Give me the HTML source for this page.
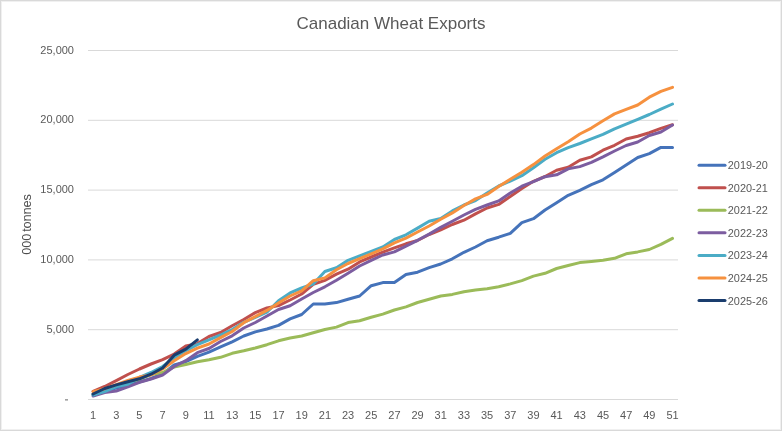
<!DOCTYPE html><html><head><meta charset="utf-8"><style>html,body{margin:0;padding:0;background:#fff;overflow:hidden;}svg{display:block;will-change:transform;}text{font-family:"Liberation Sans",sans-serif;}</style></head><body>
<svg width="782" height="431" viewBox="0 0 782 431">
<rect x="0" y="0" width="782" height="431" fill="#ffffff"/>
<rect x="0.5" y="0.5" width="781" height="430" fill="none" stroke="#d9d9d9" stroke-width="1"/>
<rect x="1.5" y="1.5" width="779" height="428" fill="none" stroke="#f0f0f0" stroke-width="1"/>
<line x1="88" y1="399.50" x2="678" y2="399.50" stroke="#d9d9d9" stroke-width="1"/>
<line x1="88" y1="329.70" x2="678" y2="329.70" stroke="#d9d9d9" stroke-width="1"/>
<line x1="88" y1="259.90" x2="678" y2="259.90" stroke="#d9d9d9" stroke-width="1"/>
<line x1="88" y1="190.10" x2="678" y2="190.10" stroke="#d9d9d9" stroke-width="1"/>
<line x1="88" y1="120.30" x2="678" y2="120.30" stroke="#d9d9d9" stroke-width="1"/>
<line x1="88" y1="50.50" x2="678" y2="50.50" stroke="#d9d9d9" stroke-width="1"/>
<rect x="65" y="399.2" width="3" height="1.3" fill="#8a8a8a"/>
<text x="74" y="332.8" font-size="11" fill="#595959" text-anchor="end">5,000</text>
<text x="74" y="263.0" font-size="11" fill="#595959" text-anchor="end">10,000</text>
<text x="74" y="193.2" font-size="11" fill="#595959" text-anchor="end">15,000</text>
<text x="74" y="123.4" font-size="11" fill="#595959" text-anchor="end">20,000</text>
<text x="74" y="53.6" font-size="11" fill="#595959" text-anchor="end">25,000</text>
<text x="93.1" y="418.5" font-size="11" fill="#595959" text-anchor="middle">1</text>
<text x="116.3" y="418.5" font-size="11" fill="#595959" text-anchor="middle">3</text>
<text x="139.4" y="418.5" font-size="11" fill="#595959" text-anchor="middle">5</text>
<text x="162.6" y="418.5" font-size="11" fill="#595959" text-anchor="middle">7</text>
<text x="185.8" y="418.5" font-size="11" fill="#595959" text-anchor="middle">9</text>
<text x="209.0" y="418.5" font-size="11" fill="#595959" text-anchor="middle">11</text>
<text x="232.2" y="418.5" font-size="11" fill="#595959" text-anchor="middle">13</text>
<text x="255.3" y="418.5" font-size="11" fill="#595959" text-anchor="middle">15</text>
<text x="278.5" y="418.5" font-size="11" fill="#595959" text-anchor="middle">17</text>
<text x="301.7" y="418.5" font-size="11" fill="#595959" text-anchor="middle">19</text>
<text x="324.9" y="418.5" font-size="11" fill="#595959" text-anchor="middle">21</text>
<text x="348.0" y="418.5" font-size="11" fill="#595959" text-anchor="middle">23</text>
<text x="371.2" y="418.5" font-size="11" fill="#595959" text-anchor="middle">25</text>
<text x="394.4" y="418.5" font-size="11" fill="#595959" text-anchor="middle">27</text>
<text x="417.6" y="418.5" font-size="11" fill="#595959" text-anchor="middle">29</text>
<text x="440.7" y="418.5" font-size="11" fill="#595959" text-anchor="middle">31</text>
<text x="463.9" y="418.5" font-size="11" fill="#595959" text-anchor="middle">33</text>
<text x="487.1" y="418.5" font-size="11" fill="#595959" text-anchor="middle">35</text>
<text x="510.3" y="418.5" font-size="11" fill="#595959" text-anchor="middle">37</text>
<text x="533.4" y="418.5" font-size="11" fill="#595959" text-anchor="middle">39</text>
<text x="556.6" y="418.5" font-size="11" fill="#595959" text-anchor="middle">41</text>
<text x="579.8" y="418.5" font-size="11" fill="#595959" text-anchor="middle">43</text>
<text x="603.0" y="418.5" font-size="11" fill="#595959" text-anchor="middle">45</text>
<text x="626.2" y="418.5" font-size="11" fill="#595959" text-anchor="middle">47</text>
<text x="649.3" y="418.5" font-size="11" fill="#595959" text-anchor="middle">49</text>
<text x="672.5" y="418.5" font-size="11" fill="#595959" text-anchor="middle">51</text>
<text transform="translate(30.8,224.5) rotate(-90)" font-size="12.8" fill="#4d4d4d" text-anchor="middle" word-spacing="-1.5" letter-spacing="-0.15">000 tonnes</text>
<text x="391" y="29" font-size="17" fill="#595959" text-anchor="middle">Canadian Wheat Exports</text>
<polyline points="93.09,394.00 104.68,391.00 116.27,388.00 127.86,385.00 139.45,382.00 151.04,378.50 162.62,374.00 174.21,365.00 185.80,361.70 197.39,356.40 208.98,352.20 220.56,346.80 232.15,341.80 243.74,336.00 255.33,331.90 266.92,329.00 278.51,325.40 290.09,318.90 301.68,314.50 313.27,304.00 324.86,304.00 336.45,302.60 348.04,299.20 359.62,296.00 371.21,285.70 382.80,282.60 394.39,282.60 405.98,274.50 417.56,272.20 429.15,267.60 440.74,264.00 452.33,258.80 463.92,252.30 475.51,247.00 487.09,240.80 498.68,237.20 510.27,233.30 521.86,222.60 533.45,218.70 545.04,210.00 556.62,202.70 568.21,195.30 579.80,190.40 591.39,184.70 602.98,179.80 614.56,172.50 626.15,165.00 637.74,157.50 649.33,153.60 660.92,147.40 672.51,147.40" fill="none" stroke="#4573BA" stroke-width="3" stroke-linejoin="round" stroke-linecap="round"/>
<polyline points="93.09,391.50 104.68,386.50 116.27,380.60 127.86,374.50 139.45,369.00 151.04,364.00 162.62,359.60 174.21,354.10 185.80,346.00 197.39,343.60 208.98,336.50 220.56,332.50 232.15,325.80 243.74,319.50 255.33,312.60 266.92,308.00 278.51,305.60 290.09,300.00 301.68,294.00 313.27,284.40 324.86,280.30 336.45,274.20 348.04,269.20 359.62,261.90 371.21,257.00 382.80,252.20 394.39,247.90 405.98,243.80 417.56,240.50 429.15,234.50 440.74,229.80 452.33,224.50 463.92,220.20 475.51,213.90 487.09,208.00 498.68,204.40 510.27,196.40 521.86,188.50 533.45,181.30 545.04,176.50 556.62,170.30 568.21,167.20 579.80,160.20 591.39,156.90 602.98,150.20 614.56,145.30 626.15,139.00 637.74,136.20 649.33,132.70 660.92,128.40 672.51,124.70" fill="none" stroke="#C0504D" stroke-width="3" stroke-linejoin="round" stroke-linecap="round"/>
<polyline points="93.09,394.50 104.68,390.00 116.27,385.50 127.86,382.50 139.45,379.00 151.04,374.50 162.62,372.50 174.21,367.00 185.80,364.50 197.39,361.80 208.98,359.70 220.56,357.30 232.15,353.30 243.74,350.80 255.33,348.00 266.92,344.70 278.51,340.80 290.09,338.00 301.68,336.00 313.27,332.80 324.86,329.50 336.45,327.10 348.04,322.60 359.62,320.80 371.21,317.20 382.80,314.10 394.39,310.00 405.98,306.90 417.56,302.50 429.15,299.30 440.74,296.00 452.33,294.40 463.92,291.70 475.51,290.00 487.09,288.70 498.68,286.80 510.27,283.90 521.86,280.60 533.45,276.10 545.04,273.30 556.62,268.50 568.21,265.50 579.80,262.60 591.39,261.40 602.98,260.30 614.56,258.30 626.15,253.80 637.74,251.90 649.33,249.50 660.92,244.40 672.51,238.40" fill="none" stroke="#9BBB59" stroke-width="3" stroke-linejoin="round" stroke-linecap="round"/>
<polyline points="93.09,396.00 104.68,392.60 116.27,391.00 127.86,386.90 139.45,382.30 151.04,379.00 162.62,375.00 174.21,366.50 185.80,360.70 197.39,352.70 208.98,348.50 220.56,341.50 232.15,335.80 243.74,328.00 255.33,322.50 266.92,316.00 278.51,309.50 290.09,305.70 301.68,299.00 313.27,292.50 324.86,286.80 336.45,280.30 348.04,273.30 359.62,266.00 371.21,260.30 382.80,255.00 394.39,251.90 405.98,246.10 417.56,240.30 429.15,234.10 440.74,227.40 452.33,221.20 463.92,215.00 475.51,209.30 487.09,205.00 498.68,200.90 510.27,193.00 521.86,186.20 533.45,181.60 545.04,176.70 556.62,174.80 568.21,168.80 579.80,166.60 591.39,162.30 602.98,156.90 614.56,151.00 626.15,145.50 637.74,142.00 649.33,135.50 660.92,132.00 672.51,125.00" fill="none" stroke="#7C5DA0" stroke-width="3" stroke-linejoin="round" stroke-linecap="round"/>
<polyline points="93.09,395.00 104.68,391.50 116.27,386.50 127.86,384.30 139.45,377.50 151.04,372.50 162.62,366.50 174.21,358.00 185.80,350.60 197.39,344.60 208.98,339.90 220.56,335.00 232.15,329.50 243.74,322.40 255.33,317.30 266.92,312.20 278.51,300.80 290.09,292.90 301.68,288.00 313.27,284.00 324.86,271.50 336.45,267.70 348.04,260.30 359.62,255.80 371.21,251.40 382.80,246.90 394.39,239.50 405.98,234.80 417.56,228.10 429.15,221.30 440.74,218.50 452.33,210.90 463.92,205.00 475.51,200.60 487.09,193.00 498.68,186.00 510.27,181.10 521.86,175.70 533.45,167.70 545.04,159.30 556.62,152.70 568.21,147.60 579.80,143.50 591.39,138.90 602.98,134.40 614.56,128.80 626.15,124.20 637.74,119.40 649.33,114.50 660.92,109.20 672.51,104.00" fill="none" stroke="#4BACC6" stroke-width="3" stroke-linejoin="round" stroke-linecap="round"/>
<polyline points="93.09,391.60 104.68,388.70 116.27,384.60 127.86,380.50 139.45,377.10 151.04,375.00 162.62,369.00 174.21,360.80 185.80,353.60 197.39,348.10 208.98,344.00 220.56,337.60 232.15,331.50 243.74,322.70 255.33,316.70 266.92,310.40 278.51,303.00 290.09,296.00 301.68,290.80 313.27,280.70 324.86,277.90 336.45,269.70 348.04,263.50 359.62,258.70 371.21,253.80 382.80,248.90 394.39,242.80 405.98,238.10 417.56,232.00 429.15,226.00 440.74,219.20 452.33,212.90 463.92,205.50 475.51,198.90 487.09,194.40 498.68,186.60 510.27,179.30 521.86,172.30 533.45,164.60 545.04,156.00 556.62,148.70 568.21,141.70 579.80,134.00 591.39,128.10 602.98,120.80 614.56,113.90 626.15,109.40 637.74,105.00 649.33,97.20 660.92,91.40 672.51,87.30" fill="none" stroke="#F6913F" stroke-width="3" stroke-linejoin="round" stroke-linecap="round"/>
<polyline points="93.09,394.00 104.68,388.50 116.27,384.90 127.86,381.70 139.45,378.80 151.04,374.20 162.62,368.00 174.21,355.20 185.80,349.10 197.39,339.90" fill="none" stroke="#1A3D6E" stroke-width="3" stroke-linejoin="round" stroke-linecap="round"/>
<line x1="699" y1="165.20" x2="725" y2="165.20" stroke="#4573BA" stroke-width="3" stroke-linecap="round"/>
<text x="727.8" y="169.20" font-size="10.9" fill="#595959">2019-20</text>
<line x1="699" y1="187.75" x2="725" y2="187.75" stroke="#C0504D" stroke-width="3" stroke-linecap="round"/>
<text x="727.8" y="191.75" font-size="10.9" fill="#595959">2020-21</text>
<line x1="699" y1="210.30" x2="725" y2="210.30" stroke="#9BBB59" stroke-width="3" stroke-linecap="round"/>
<text x="727.8" y="214.30" font-size="10.9" fill="#595959">2021-22</text>
<line x1="699" y1="232.85" x2="725" y2="232.85" stroke="#7C5DA0" stroke-width="3" stroke-linecap="round"/>
<text x="727.8" y="236.85" font-size="10.9" fill="#595959">2022-23</text>
<line x1="699" y1="255.40" x2="725" y2="255.40" stroke="#4BACC6" stroke-width="3" stroke-linecap="round"/>
<text x="727.8" y="259.40" font-size="10.9" fill="#595959">2023-24</text>
<line x1="699" y1="277.95" x2="725" y2="277.95" stroke="#F6913F" stroke-width="3" stroke-linecap="round"/>
<text x="727.8" y="281.95" font-size="10.9" fill="#595959">2024-25</text>
<line x1="699" y1="300.50" x2="725" y2="300.50" stroke="#1A3D6E" stroke-width="3" stroke-linecap="round"/>
<text x="727.8" y="304.50" font-size="10.9" fill="#595959">2025-26</text>
</svg></body></html>
